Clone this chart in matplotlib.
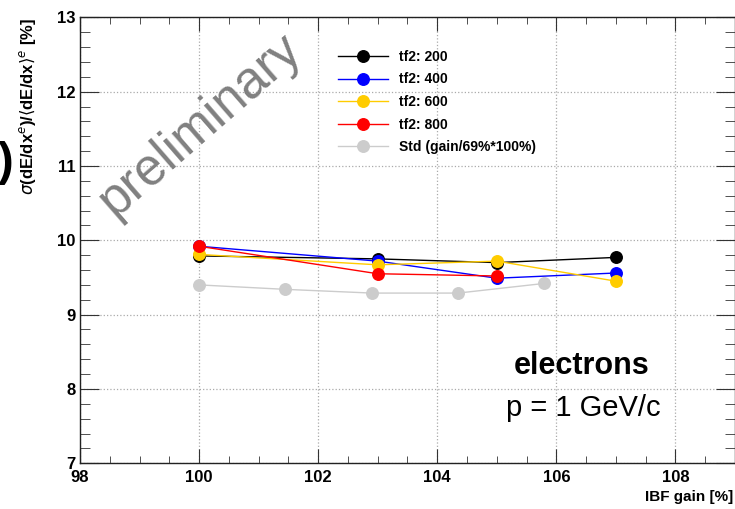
import numpy as np
import matplotlib
matplotlib.use("Agg")
import matplotlib.pyplot as plt
from matplotlib.ticker import MultipleLocator

plt.rcParams['font.family'] = ['Liberation Sans', 'DejaVu Sans']

# IBF gain [%] and dE/dx resolution [%]
gain_tf2 = [100, 103, 105, 107]
res_200 = [9.79, 9.75, 9.70, 9.77]
res_400 = [9.92, 9.72, 9.49, 9.56]
res_600 = [9.81, 9.67, 9.72, 9.45]
gain_800 = [100, 103, 105]
res_800 = [9.92, 9.55, 9.52]
gain_std = [100.0, 101.45, 102.9, 104.35, 105.8]
res_std = [9.40, 9.34, 9.29, 9.29, 9.42]

series = [
    ("tf2: 200", gain_tf2, res_200, "black"),
    ("tf2: 400", gain_tf2, res_400, "#0000ff"),
    ("tf2: 600", gain_tf2, res_600, "#ffcc00"),
    ("tf2: 800", gain_800, res_800, "#ff0000"),
    ("Std (gain/69%*100%)", gain_std, res_std, "#cccccc"),
]

fig = plt.figure(figsize=(7.35, 5.09), dpi=100)
ax = fig.add_axes([0.1088, 0.0898, 0.8912, 0.8762])

for label, x, y, c in series:
    ax.plot(x, y, '-o', color=c, lw=1.0, ms=8.3, mec=c, label=label)

ax.set_xlim(98, 109)
ax.set_ylim(7, 13)
ax.xaxis.set_major_locator(MultipleLocator(2))
ax.xaxis.set_minor_locator(MultipleLocator(0.5))
ax.yaxis.set_major_locator(MultipleLocator(1))
ax.yaxis.set_minor_locator(MultipleLocator(0.2))
ax.grid(True, which='major', ls=':', color='#aaaaaa', lw=0.9)
ax.tick_params(which='both', direction='in', top=True, right=True, color='#333333')
ax.tick_params(axis='x', which='major', length=10, labelsize=12, pad=5)
ax.tick_params(axis='x', which='minor', length=5)
ax.tick_params(axis='y', which='major', length=14, labelsize=12, pad=3)
ax.tick_params(axis='y', which='minor', length=7)
for lab in ax.get_xticklabels() + ax.get_yticklabels():
    lab.set_fontweight('bold')
for s in ax.spines.values():
    s.set_color('#222222')
    s.set_linewidth(1.0)

leg = ax.legend(loc='upper left', bbox_to_anchor=(0.375, 0.955), frameon=False,
                prop={'weight': 'bold', 'size': 10}, handlelength=3.6,
                labelspacing=0.62, handletextpad=0.75)

fig.text(0.037, 0.965, r"$\sigma$(dE/dx$^{e}$)/$\langle$dE/dx$\rangle^{e}$ [%]",
         rotation=90, ha='center', va='top', fontsize=12, fontweight='bold')
fig.text(0.997, 0.01, "IBF gain [%]", ha='right', va='bottom',
         fontsize=11, fontweight='bold')
fig.text(0.008, 0.68, ")", ha='center', va='center', fontsize=34, fontweight='bold')

fig.text(0.272, 0.755, "preliminary", rotation=41, ha='center', va='center',
         fontsize=37, color='#808080')
fig.text(0.792, 0.28, "electrons", ha='center', va='center',
         fontsize=22, fontweight='bold')
fig.text(0.793, 0.198, "p = 1 GeV/c", ha='center', va='center', fontsize=21)

fig.savefig("out.png", dpi=100)
